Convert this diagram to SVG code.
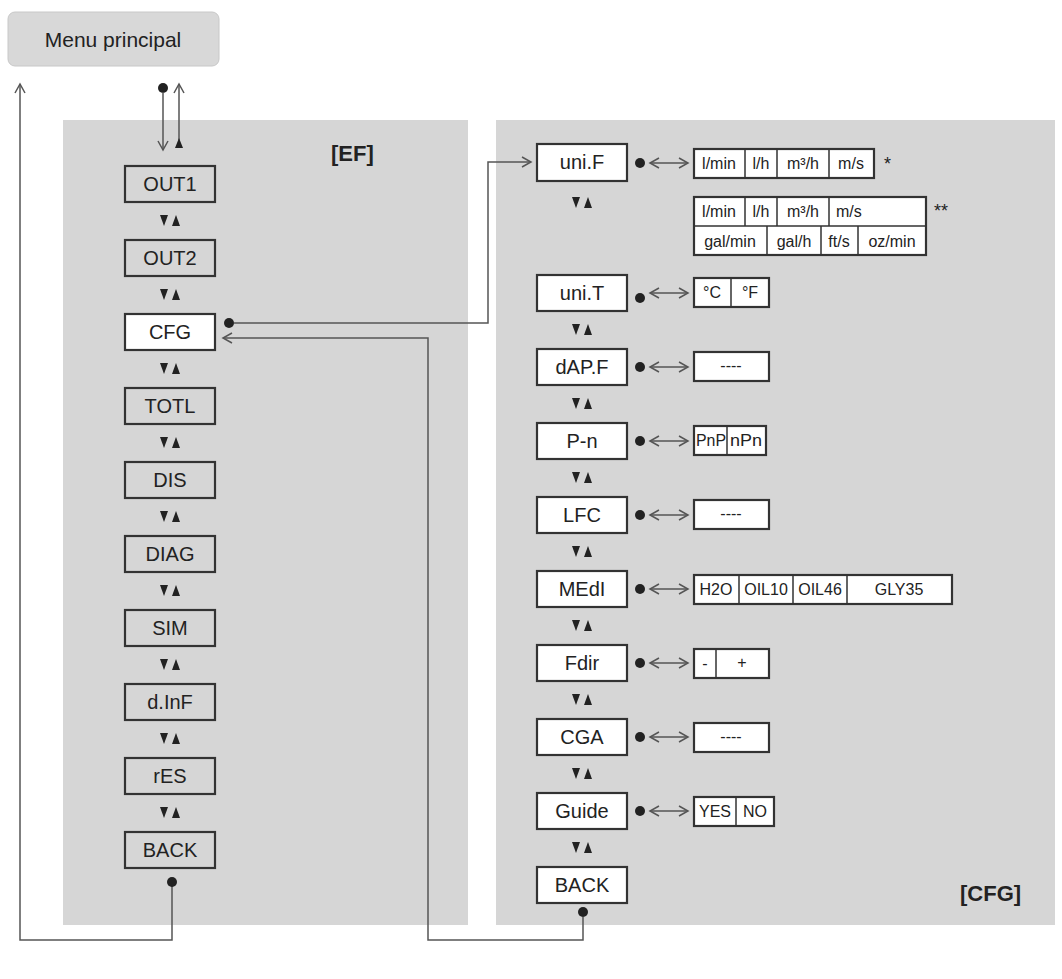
<svg xmlns="http://www.w3.org/2000/svg" width="1062" height="979" viewBox="0 0 1062 979">
<style>
text{font-family:"Liberation Sans",Arial,sans-serif;fill:#222}
.n{font-size:20px;text-anchor:middle}
.o{font-size:16px;text-anchor:middle}
.b{fill:#fff;stroke:#333;stroke-width:2.2}
.g{fill:#d6d6d6;stroke:#333;stroke-width:2.2}
.c{fill:none;stroke:#555;stroke-width:1.5}
.lbl{font-weight:bold;font-size:22px}
</style>
<defs>
<marker id="ah" markerWidth="12" markerHeight="12" refX="10" refY="6" orient="auto-start-reverse" markerUnits="userSpaceOnUse"><path d="M1,1 L10,6 L1,11" fill="none" stroke="#555" stroke-width="1.5"/></marker>
<g id="ud"><polygon points="-10,-6 -2,-6 -6,5" fill="#222"/><polygon points="2,5 10,5 6,-6" fill="#222"/></g>
</defs>
<rect x="63" y="120" width="405" height="805" fill="#d6d6d6"/>
<rect x="496" y="120" width="559" height="805" fill="#d6d6d6"/>
<g id="menu"><rect x="8" y="12" width="211" height="54" rx="7" fill="#d8d8d8" stroke="#c8c8c8"/><text x="113" y="47" style="font-size:21px" text-anchor="middle">Menu principal</text></g>
<text class="lbl" x="331" y="161">[EF]</text>
<text class="lbl" x="960" y="901">[CFG]</text>
<g id="connectors">
<circle cx="163" cy="88" r="5" fill="#222"/>
<line class="c" x1="163" y1="92" x2="163" y2="150" marker-end="url(#ah)"/>
<line class="c" x1="179" y1="140" x2="179" y2="84" marker-end="url(#ah)"/>
<polygon points="175,148 183,148 179,138" fill="#222"/>
<polyline class="c" points="172,885 172,940 20,940 20,84" marker-end="url(#ah)"/>
<circle cx="172" cy="882" r="5" fill="#222"/>
<circle cx="229" cy="323" r="5" fill="#222"/>
<polyline class="c" points="234,323 488,323 488,162 531,162" marker-end="url(#ah)"/>
<circle cx="583" cy="912" r="5" fill="#222"/>
<polyline class="c" points="583,917 583,940 428,940 428,338 223,338" marker-end="url(#ah)"/>
<g id="pairs-ef">
<use href="#ud" x="170" y="221"/><use href="#ud" x="170" y="295"/><use href="#ud" x="170" y="369"/><use href="#ud" x="170" y="443"/><use href="#ud" x="170" y="517"/><use href="#ud" x="170" y="591"/><use href="#ud" x="170" y="665"/><use href="#ud" x="170" y="739"/><use href="#ud" x="170" y="813"/>
</g>
<g id="pairs-cfg">
<use href="#ud" x="582" y="203"/><use href="#ud" x="582" y="330"/><use href="#ud" x="582" y="404"/><use href="#ud" x="582" y="478"/><use href="#ud" x="582" y="552"/><use href="#ud" x="582" y="626"/><use href="#ud" x="582" y="700"/><use href="#ud" x="582" y="774"/><use href="#ud" x="582" y="848"/>
</g>
<g id="dots">
<circle cx="640" cy="163" r="5" fill="#222"/><circle cx="640" cy="298" r="5" fill="#222"/><circle cx="640" cy="367" r="5" fill="#222"/><circle cx="640" cy="441" r="5" fill="#222"/><circle cx="640" cy="515" r="5" fill="#222"/><circle cx="640" cy="589" r="5" fill="#222"/><circle cx="640" cy="663" r="5" fill="#222"/><circle cx="640" cy="737" r="5" fill="#222"/><circle cx="640" cy="811" r="5" fill="#222"/>
</g>
<g id="dbl">
<line class="c" x1="650" y1="163" x2="688" y2="163" marker-start="url(#ah)" marker-end="url(#ah)"/>
<line class="c" x1="650" y1="293" x2="688" y2="293" marker-start="url(#ah)" marker-end="url(#ah)"/>
<line class="c" x1="650" y1="367" x2="688" y2="367" marker-start="url(#ah)" marker-end="url(#ah)"/>
<line class="c" x1="650" y1="441" x2="688" y2="441" marker-start="url(#ah)" marker-end="url(#ah)"/>
<line class="c" x1="650" y1="515" x2="688" y2="515" marker-start="url(#ah)" marker-end="url(#ah)"/>
<line class="c" x1="650" y1="589" x2="688" y2="589" marker-start="url(#ah)" marker-end="url(#ah)"/>
<line class="c" x1="650" y1="663" x2="688" y2="663" marker-start="url(#ah)" marker-end="url(#ah)"/>
<line class="c" x1="650" y1="737" x2="688" y2="737" marker-start="url(#ah)" marker-end="url(#ah)"/>
<line class="c" x1="650" y1="811" x2="688" y2="811" marker-start="url(#ah)" marker-end="url(#ah)"/>
</g>
</g>
<g id="OUT1"><rect class="g" x="125" y="166" width="90" height="36"/><text class="n" x="170" y="191">OUT1</text></g>
<g id="OUT2"><rect class="g" x="125" y="240" width="90" height="36"/><text class="n" x="170" y="265">OUT2</text></g>
<g id="CFG"><rect class="b" x="125" y="314" width="90" height="36"/><text class="n" x="170" y="339">CFG</text></g>
<g id="TOTL"><rect class="g" x="125" y="388" width="90" height="36"/><text class="n" x="170" y="413">TOTL</text></g>
<g id="DIS"><rect class="g" x="125" y="462" width="90" height="36"/><text class="n" x="170" y="487">DIS</text></g>
<g id="DIAG"><rect class="g" x="125" y="536" width="90" height="36"/><text class="n" x="170" y="561">DIAG</text></g>
<g id="SIM"><rect class="g" x="125" y="610" width="90" height="36"/><text class="n" x="170" y="635">SIM</text></g>
<g id="dInF"><rect class="g" x="125" y="684" width="90" height="36"/><text class="n" x="170" y="709">d.InF</text></g>
<g id="rES"><rect class="g" x="125" y="758" width="90" height="36"/><text class="n" x="170" y="783">rES</text></g>
<g id="BACK1"><rect class="g" x="125" y="832" width="90" height="36"/><text class="n" x="170" y="857">BACK</text></g>
<g id="uniF"><rect class="b" x="537" y="144" width="90" height="37"/><text class="n" x="582" y="169">uni.F</text></g>
<g id="uniT"><rect class="b" x="537" y="275" width="90" height="36"/><text class="n" x="582" y="300">uni.T</text></g>
<g id="dAPF"><rect class="b" x="537" y="349" width="90" height="36"/><text class="n" x="582" y="374">dAP.F</text></g>
<g id="Pn"><rect class="b" x="537" y="423" width="90" height="36"/><text class="n" x="582" y="448">P-n</text></g>
<g id="LFC"><rect class="b" x="537" y="497" width="90" height="36"/><text class="n" x="582" y="522">LFC</text></g>
<g id="MEdI"><rect class="b" x="537" y="571" width="90" height="36"/><text class="n" x="582" y="596">MEdI</text></g>
<g id="Fdir"><rect class="b" x="537" y="645" width="90" height="36"/><text class="n" x="582" y="670">Fdir</text></g>
<g id="CGA"><rect class="b" x="537" y="719" width="90" height="36"/><text class="n" x="582" y="744">CGA</text></g>
<g id="Guide"><rect class="b" x="537" y="793" width="90" height="36"/><text class="n" x="582" y="818">Guide</text></g>
<g id="BACK2"><rect class="b" x="537" y="867" width="90" height="36"/><text class="n" x="582" y="892">BACK</text></g>
<g id="opt-uniF1">
<rect class="b" x="694" y="149" width="180" height="29" stroke-width="1.8"/>
<path d="M745,149V178M777,149V178M829,149V178" stroke="#333" stroke-width="1.5"/>
<text class="o" x="719" y="169">l/min</text><text class="o" x="761" y="169">l/h</text><text class="o" x="803" y="169">m³/h</text><text class="o" x="851" y="169">m/s</text>
<text x="884" y="170" style="font-size:18px">*</text>
</g>
<g id="opt-uniF2">
<rect class="b" x="694" y="197" width="232" height="58" stroke-width="1.8"/>
<path d="M694,226H926M745,197V226M777,197V226M829,197V226M767,226V255M821,226V255M858,226V255" stroke="#333" stroke-width="1.5"/>
<text class="o" x="719" y="217">l/min</text><text class="o" x="761" y="217">l/h</text><text class="o" x="803" y="217">m³/h</text><text x="836" y="217" style="font-size:16px">m/s</text>
<text class="o" x="730" y="247">gal/min</text><text class="o" x="794" y="247">gal/h</text><text class="o" x="839" y="247">ft/s</text><text class="o" x="892" y="247">oz/min</text>
<text x="934" y="217" style="font-size:18px">**</text>
</g>
<g id="opt-uniT"><rect class="b" x="694" y="278" width="75" height="29" stroke-width="1.8"/><path d="M731,278V307" stroke="#333" stroke-width="1.5"/><text class="o" x="712" y="298">°C</text><text class="o" x="750" y="298">°F</text></g>
<g id="opt-dAPF"><rect class="b" x="694" y="352" width="75" height="29" stroke-width="1.8"/><text class="o" x="731" y="371">----</text></g>
<g id="opt-Pn"><rect class="b" x="694" y="426" width="72" height="29" stroke-width="1.8"/><path d="M727,426V455" stroke="#333" stroke-width="1.5"/><text class="o" x="711" y="446" textLength="30" lengthAdjust="spacingAndGlyphs">PnP</text><text class="o" x="746" y="446" textLength="32" lengthAdjust="spacingAndGlyphs">nPn</text></g>
<g id="opt-LFC"><rect class="b" x="694" y="500" width="75" height="29" stroke-width="1.8"/><text class="o" x="731" y="519">----</text></g>
<g id="opt-MEdI"><rect class="b" x="694" y="575" width="258" height="29" stroke-width="1.8"/><path d="M739,575V604M793,575V604M847,575V604" stroke="#333" stroke-width="1.5"/><text class="o" x="716" y="595">H2O</text><text class="o" x="766" y="595">OIL10</text><text class="o" x="820" y="595">OIL46</text><text class="o" x="899" y="595">GLY35</text></g>
<g id="opt-Fdir"><rect class="b" x="694" y="649" width="75" height="29" stroke-width="1.8"/><path d="M716,649V678" stroke="#333" stroke-width="1.5"/><text class="o" x="705" y="669">-</text><text class="o" x="742" y="668">+</text></g>
<g id="opt-CGA"><rect class="b" x="694" y="723" width="75" height="29" stroke-width="1.8"/><text class="o" x="731" y="742">----</text></g>
<g id="opt-Guide"><rect class="b" x="694" y="797" width="80" height="29" stroke-width="1.8"/><path d="M736,797V826" stroke="#333" stroke-width="1.5"/><text class="o" x="715" y="817">YES</text><text class="o" x="755" y="817">NO</text></g>
</svg>
